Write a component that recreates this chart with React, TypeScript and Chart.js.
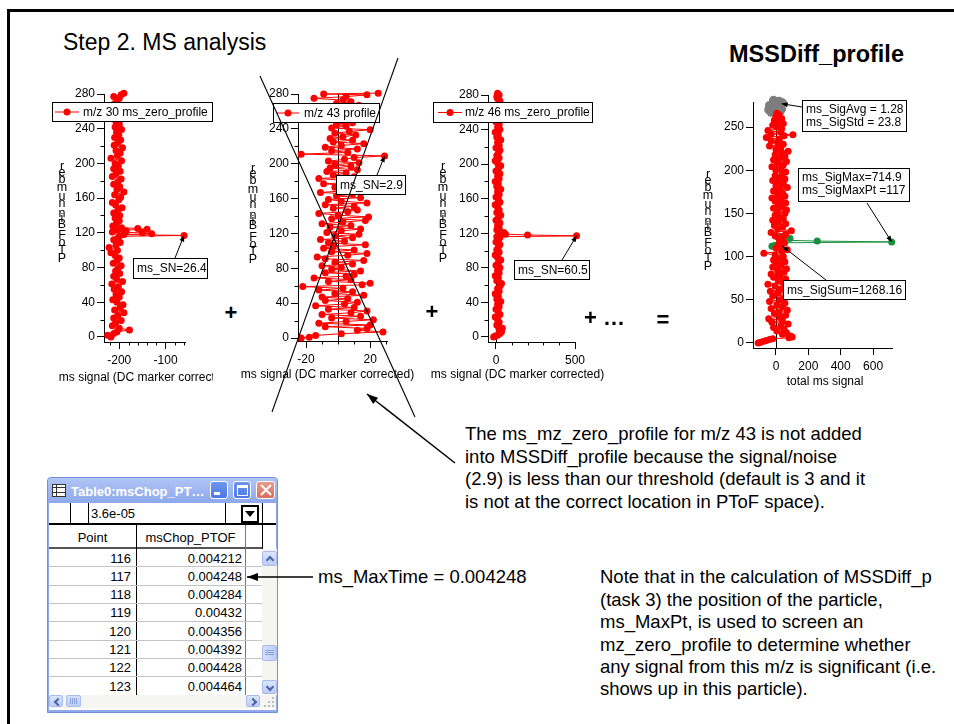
import React, { useEffect, useRef } from 'react';
import { Chart, registerables } from 'chart.js';

Chart.register(...registerables);

const FONT = '"Liberation Sans", Arial, Helvetica, sans-serif';

// ---------------- data: [PToF bin, ms signal] ----------------
const mz30Profile: [number, number][] = [
  [0, -218], [2, -225], [4, -212], [6, -205], [8, -178], [10, -200], [13, -215], [16, -208], [19, -196], [22, -212],
  [25, -203], [28, -190], [31, -210], [34, -198], [37, -192], [40, -205], [43, -214], [46, -200], [49, -207], [52, -195],
  [55, -211], [58, -202], [61, -216], [64, -193], [67, -206], [70, -212], [73, -199], [76, -208], [79, -203], [82, -196],
  [85, -213], [88, -205], [91, -200], [94, -209], [97, -218], [100, -204], [103, -222], [106, -207], [109, -198], [112, -212],
  [114, -203], [116, -200], [117, -60], [118, -190], [119, -130], [120, -150], [121, -215], [122, -185], [123, -205], [124, -140],
  [125, -160], [126, -195], [128, -214], [131, -206], [134, -200], [137, -209], [140, -199], [143, -212], [146, -203], [149, -194],
  [152, -208], [155, -215], [158, -201], [161, -197], [164, -210], [167, -190], [170, -205], [173, -199], [176, -212], [179, -203],
  [182, -196], [185, -215], [188, -207], [191, -198], [194, -212], [197, -202], [200, -209], [203, -195], [206, -218], [209, -204],
  [212, -198], [215, -207], [218, -193], [221, -211], [224, -203], [227, -197], [230, -210], [233, -201], [236, -206], [239, -195],
  [242, -209], [245, -200], [248, -207], [251, -198], [254, -212], [257, -203], [260, -196], [263, -208], [266, -201], [269, -210],
  [272, -204], [275, -200], [277, -212], [279, -196], [281, -190],
];

const mz43Profile: [number, number][] = [
  [0, -23], [1, -18], [3, -14], [5, 2], [7, 28], [9, 12], [11, 18], [13, -8], [15, 20], [17, -12],
  [19, 5], [21, 22], [23, -4], [25, 14], [27, -10], [29, 8], [31, 18], [33, -6], [35, 10], [37, -14],
  [39, 4], [41, 12], [43, -8], [45, 6], [47, -10], [49, 16], [51, -2], [53, 9], [55, -12], [57, 3],
  [59, -22], [61, 15], [63, 20], [65, -6], [67, 8], [69, -15], [71, 5], [73, 10], [75, -8], [77, 14],
  [79, -4], [81, 2], [83, -10], [85, 9], [87, -2], [89, 16], [91, -8], [93, -13], [95, 6], [97, 18],
  [99, -4], [101, 10], [103, -9], [105, -3], [107, 17], [109, -6], [111, 4], [113, -11], [115, 9], [117, -2],
  [119, 13], [121, -7], [123, 2], [125, 14], [127, -5], [129, 8], [131, -10], [133, 3], [135, 17], [137, -4],
  [139, 19], [141, 0], [143, -12], [145, 6], [147, 12], [149, -3], [151, 10], [153, -8], [155, 18], [157, 2],
  [159, -6], [161, 14], [163, -1], [165, 9], [167, -11], [169, 4], [171, 12], [173, -2], [175, 7], [177, -9],
  [179, 15], [181, 3], [183, -12], [185, 10], [187, -3], [189, 5], [191, -7], [193, 12], [195, -5], [197, 8],
  [199, -2], [201, 13], [203, -6], [205, 4], [207, 10], [209, 29], [211, -23], [213, 6], [215, -4], [217, 12],
  [219, -8], [221, 2], [223, 16], [225, -3], [227, 9], [229, -5], [231, 3], [233, 11], [235, -2], [237, 7],
  [239, 20], [241, -4], [243, 5], [245, -1], [247, 9], [249, 3], [251, -6], [253, 8], [255, 1], [257, -3],
  [259, 10], [261, 4], [263, -2], [265, 6], [267, 13], [269, -1], [271, 8], [273, 3], [275, -15], [277, 5],
  [279, 18], [280, -9], [281, 25],
];

const mz46Profile: [number, number][] = [
  [0, -15], [1, -5], [2, 10], [4, 25], [6, 35], [8, 20], [10, 40], [12, 15], [14, 5], [17, 20],
  [20, 10], [23, -5], [26, 25], [29, 15], [32, 0], [35, 20], [38, 10], [41, 30], [44, 5], [47, 15],
  [50, -5], [53, 20], [56, 10], [59, 25], [62, 35], [65, 5], [68, 15], [71, -5], [74, 20], [77, 10],
  [80, 25], [83, 0], [86, 15], [89, 30], [92, 10], [95, -5], [98, 20], [101, 5], [104, 15], [107, 25],
  [110, 0], [112, 15], [114, 10], [115, 25], [116, 5], [117, 510], [118, 200], [119, 60], [120, 30], [121, 50],
  [122, 15], [124, 5], [126, 20], [129, 10], [132, 25], [135, 0], [138, 15], [141, 30], [144, 5], [147, 20],
  [150, 10], [153, -5], [156, 25], [159, 15], [162, 0], [165, 20], [168, 10], [171, 30], [174, 5], [177, 15],
  [180, -5], [183, 20], [186, 10], [189, 25], [192, 0], [195, 15], [198, 30], [201, 10], [204, -5], [207, 20],
  [210, 5], [213, 15], [216, 25], [219, 0], [222, 20], [225, 10], [228, 30], [231, 5], [234, 15], [237, -5],
  [240, 25], [243, 10], [246, 20], [249, 0], [252, 15], [255, 30], [258, 5], [261, 20], [264, 10], [267, -5],
  [270, 15], [273, 25], [276, 10], [278, 5], [280, 20], [282, 10],
];

const sumProfile: [number, number][] = [
  [0, -110], [1, -95], [2, -75], [3, -60], [4, -40], [5, -20], [6, 80], [7, 100], [8, 90], [10, 40],
  [12, 65], [14, 5], [16, 50], [18, -15], [20, 30], [22, 75], [24, -25], [26, 40], [28, -45], [30, 25],
  [32, 60], [34, -10], [36, 20], [38, 70], [40, -30], [42, 40], [44, 5], [46, 55], [48, -40], [50, 25],
  [52, 50], [54, -20], [56, 65], [58, 10], [60, -35], [62, 30], [64, 55], [66, -5], [68, -50], [70, 40],
  [72, 15], [74, 60], [76, -15], [78, 25], [80, -30], [82, 50], [84, 10], [86, 65], [88, -20], [90, 30],
  [92, 0], [94, 55], [96, -15], [98, 25], [100, 45], [102, -5], [104, -75], [106, 35], [108, 70], [110, 0],
  [112, 30], [114, 15], [116, 50], [118, 35], [120, 20], [122, 45], [124, -5], [126, 60], [128, -30], [130, 95],
  [132, 10], [134, 40], [136, -10], [138, 60], [140, 15], [142, -20], [144, 45], [146, 20], [148, -5], [150, 55],
  [152, 10], [154, 65], [156, -15], [158, 35], [160, 15], [162, 60], [164, -5], [166, 30], [168, -25], [170, 55],
  [172, 10], [174, 40], [176, -15], [178, 25], [180, 70], [182, 0], [184, 45], [186, 15], [188, -20], [190, 55],
  [192, 20], [194, -5], [196, 40], [198, 60], [200, 0], [202, 30], [204, -25], [206, 45], [208, 10], [210, 65],
  [212, -15], [214, 25], [216, 55], [218, -5], [220, 35], [222, 75], [224, 0], [226, 30], [228, -40], [230, 45],
  [232, 10], [234, -30], [236, 20], [238, -60], [240, 50], [241, 105], [242, -30], [244, 30], [246, -50], [248, 35],
  [250, 5], [252, -20], [254, 45], [256, 10], [258, -10], [260, 35], [262, 0], [264, 20], [266, 5],
];

const sumMaxRegion: [number, number][] = [
  [112, -25], [113, -10], [114, 15], [115, 35], [116, 55], [117, 715], [118, 255], [119, 40], [120, 20], [121, 87],
  [122, 25], [123, 10],
];

const sumAvgMarker: [number, number][] = [
  [265, 10], [267, -30], [268, 25], [270, -45], [271, 35], [272, -20], [273, 15], [275, -40], [276, 30], [277, -10],
  [278, 40], [279, 0], [280, 20], [281, -15],
];

// ---------------- axis ticks ----------------
const binTicks40 = [0, 40, 80, 120, 160, 200, 240, 280];
const binMinor40 = [20, 60, 100, 140, 180, 220, 260];
const binTicks50 = [0, 50, 100, 150, 200, 250];
const mz30Ticks = [-200, -100];
const mz30Minor = [-220, -180, -160, -140, -120, -80, -60];
const mz43Ticks = [-20, 20];
const mz43Minor = [-10, 0, 10, 30];
const mz46Ticks = [0, 500];
const mz46Minor = [100, 200, 300, 400];
const sumTicks = [0, 200, 400, 600];

// ---------------- table ----------------
const tablePoints = [116, 117, 118, 119, 120, 121, 122, 123];
const tableTimes = [0.004212, 0.004248, 0.004284, 0.00432, 0.004356, 0.004392, 0.004428, 0.004464];

const RED = '#ff0000';
const GREEN = '#17913f';
const GREY = '#7d7d7d';

type Note = { x: number; y: number; w: number; h: number; lines: string[]; from: [number, number]; to: [number, number] };
type Legend = { x: number; y: number; w: number; h: number; l1: number; l2: number; tx: number; label: string };
type Spec = {
  box: { x: number; y: number; w: number; h: number };
  area: { l: number; t: number; r: number; b: number };
  xr: [number, number];
  yr: [number, number];
  xMajor: number[];
  xMinor: number[];
  yMajor: number[];
  yMinor: number[];
  zero: boolean;
  xTitle: { text: string; cx: number; cy: number };
  yTitle: { text: string; x: number; cy: number };
  legend?: Legend;
  notes: Note[];
  datasets: any[];
};

const toXY = (arr: [number, number][]) => arr.map(([bin, s]) => ({ x: s, y: bin }));
function series(arr: [number, number][], color: string, radius = 3.5) {
  return {
    data: toXY(arr),
    showLine: true,
    borderColor: color,
    backgroundColor: color,
    borderWidth: 1,
    pointRadius: radius,
    pointHoverRadius: radius,
    pointBorderWidth: 0,
    clip: false,
    tension: 0,
  };
}

const YTITLE = 'PToF Bin number';
const XTITLE = 'ms signal (DC marker corrected)';

const specs: Spec[] = [
  {
    box: { x: 40, y: 60, w: 173, h: 340 },
    area: { l: 104, t: 94, r: 185, b: 342 },
    xr: [-233, -58], yr: [-5.8, 280],
    xMajor: mz30Ticks, xMinor: mz30Minor, yMajor: binTicks40, yMinor: binMinor40,
    zero: false,
    xTitle: { text: XTITLE, cx: 145.5, cy: 378 },
    yTitle: { text: YTITLE, x: 62, cy: 213.5 },
    legend: { x: 52, y: 102, w: 161, h: 20, l1: 55, l2: 79, tx: 83, label: 'm/z 30 ms_zero_profile' },
    notes: [{ x: 133, y: 258, w: 75, h: 21, lines: ['ms_SN=26.4'], from: [175, 258], to: [-60, 117] }],
    datasets: [series(mz30Profile, RED)],
  },
  {
    box: { x: 240, y: 60, w: 180, h: 340 },
    area: { l: 298, t: 94, r: 387, b: 341 },
    xr: [-25, 30.5], yr: [-3.4, 280],
    xMajor: mz43Ticks, xMinor: mz43Minor, yMajor: binTicks40, yMinor: binMinor40,
    zero: true,
    xTitle: { text: XTITLE, cx: 327.5, cy: 375 },
    yTitle: { text: YTITLE, x: 253, cy: 215 },
    legend: { x: 273, y: 103, w: 107, h: 20, l1: 277, l2: 299, tx: 304, label: 'm/z 43 profile' },
    notes: [{ x: 336, y: 175, w: 70, h: 20, lines: ['ms_SN=2.9'], from: [377, 175], to: [29, 209] }],
    datasets: [series(mz43Profile, RED)],
  },
  {
    box: { x: 425, y: 60, w: 185, h: 340 },
    area: { l: 488, t: 95, r: 575, b: 342 },
    xr: [-50.6, 500], yr: [-5.8, 280],
    xMajor: mz46Ticks, xMinor: mz46Minor, yMajor: binTicks40, yMinor: binMinor40,
    zero: true,
    xTitle: { text: XTITLE, cx: 517.5, cy: 375 },
    yTitle: { text: YTITLE, x: 443, cy: 213.5 },
    legend: { x: 433, y: 102, w: 160, h: 21, l1: 438, l2: 462, tx: 465, label: 'm/z 46 ms_zero_profile' },
    notes: [{ x: 514, y: 260, w: 76, h: 20, lines: ['ms_SN=60.5'], from: [562, 260], to: [510, 117] }],
    datasets: [series(mz46Profile, RED)],
  },
  {
    box: { x: 690, y: 80, w: 235, h: 315 },
    area: { l: 753, t: 102, r: 892, b: 348 },
    xr: [-142, 717], yr: [-5.8, 279],
    xMajor: sumTicks, xMinor: [], yMajor: binTicks50, yMinor: [],
    zero: true,
    xTitle: { text: 'total ms signal', cx: 825, cy: 382 },
    yTitle: { text: YTITLE, x: 708, cy: 221.5 },
    notes: [
      { x: 802, y: 100, w: 105, h: 32, lines: ['ms_SigAvg = 1.28', 'ms_SigStd = 23.8'], from: [802, 107], to: [35, 277] },
      { x: 798, y: 168, w: 112, h: 34, lines: ['ms_SigMax=714.9', 'ms_SigMaxPt =117'], from: [867, 203], to: [715, 117] },
      { x: 783, y: 280, w: 123, h: 20, lines: ['ms_SigSum=1268.16'], from: [826, 280], to: [40, 112] },
    ],
    datasets: [series(sumProfile, RED), series(sumMaxRegion, GREEN, 3.5), series(sumAvgMarker, GREY, 4.5)],
  },
];

function arrowHead(ctx: CanvasRenderingContext2D, x1: number, y1: number, x2: number, y2: number, len = 6, hw = 2.5) {
  const a = Math.atan2(y2 - y1, x2 - x1);
  const c = Math.cos(a), s = Math.sin(a);
  ctx.beginPath();
  ctx.moveTo(x2, y2);
  ctx.lineTo(x2 - len * c + hw * s, y2 - len * s - hw * c);
  ctx.lineTo(x2 - len * c - hw * s, y2 - len * s + hw * c);
  ctx.closePath();
  ctx.fill();
}

function decorPlugin(spec: Spec) {
  const ox = spec.box.x, oy = spec.box.y;
  return {
    id: 'decor',
    beforeDatasetsDraw(chart: any) {
      const { ctx, chartArea: a, scales } = chart;
      const xs = scales.x, ys = scales.y;
      ctx.save();
      ctx.strokeStyle = '#000';
      ctx.lineWidth = 1;
      ctx.beginPath();
      if (spec.zero) {
        const px = Math.round(xs.getPixelForValue(0)) + 0.5;
        ctx.moveTo(px, a.top);
        ctx.lineTo(px, a.bottom);
      }
      spec.xMinor.forEach((v) => {
        const px = Math.round(xs.getPixelForValue(v)) + 0.5;
        ctx.moveTo(px, a.bottom);
        ctx.lineTo(px, a.bottom + 3.5);
      });
      spec.yMinor.forEach((v) => {
        const py = Math.round(ys.getPixelForValue(v)) + 0.5;
        ctx.moveTo(a.left - 3.5, py);
        ctx.lineTo(a.left, py);
      });
      ctx.stroke();
      ctx.restore();
    },
    afterDraw(chart: any) {
      const { ctx, scales } = chart;
      const xs = scales.x, ys = scales.y;
      ctx.save();
      ctx.fillStyle = '#000';
      ctx.strokeStyle = '#000';
      ctx.lineWidth = 1;

      // x title
      ctx.font = `12px ${FONT}`;
      ctx.textAlign = 'center';
      ctx.textBaseline = 'middle';
      ctx.fillText(spec.xTitle.text, spec.xTitle.cx - ox, spec.xTitle.cy - oy);

      // y title: glyphs stacked upright along the vertical
      ctx.font = `12.5px ${FONT}`;
      const chars = [...spec.yTitle.text];
      const widths = chars.map((c) => ctx.measureText(c).width);
      const total = widths.reduce((p, q) => p + q, 0);
      let pos = spec.yTitle.cy - oy + total / 2;
      chars.forEach((c, i) => {
        ctx.fillText(c, spec.yTitle.x - ox, pos - widths[i] / 2);
        pos -= widths[i];
      });

      // legend box
      ctx.font = `12px ${FONT}`;
      if (spec.legend) {
        const L = spec.legend;
        ctx.fillStyle = '#fff';
        ctx.fillRect(L.x - ox, L.y - oy, L.w, L.h);
        ctx.strokeRect(L.x - ox + 0.5, L.y - oy + 0.5, L.w - 1, L.h - 1);
        const cy = L.y - oy + L.h / 2;
        ctx.strokeStyle = RED;
        ctx.beginPath();
        ctx.moveTo(L.l1 - ox, cy);
        ctx.lineTo(L.l2 - ox, cy);
        ctx.stroke();
        ctx.fillStyle = RED;
        ctx.beginPath();
        ctx.arc((L.l1 + L.l2) / 2 - ox, cy, 3.5, 0, Math.PI * 2);
        ctx.fill();
        ctx.fillStyle = '#000';
        ctx.strokeStyle = '#000';
        ctx.textAlign = 'left';
        ctx.fillText(L.label, L.tx - ox, cy + 0.5);
      }

      // annotation boxes with arrows
      spec.notes.forEach((n) => {
        ctx.fillStyle = '#fff';
        ctx.fillRect(n.x - ox, n.y - oy, n.w, n.h);
        ctx.strokeStyle = '#000';
        ctx.strokeRect(n.x - ox + 0.5, n.y - oy + 0.5, n.w - 1, n.h - 1);
        ctx.fillStyle = '#000';
        ctx.textAlign = 'left';
        ctx.textBaseline = 'middle';
        n.lines.forEach((t, i) => {
          const cy = n.lines.length === 1 ? n.y + n.h / 2 : n.y + 9.5 + i * 13;
          ctx.fillText(t, n.x - ox + 4, cy - oy + 0.5);
        });
        const tx = xs.getPixelForValue(n.to[0]);
        const ty = ys.getPixelForValue(n.to[1]);
        const fx = n.from[0] - ox, fy = n.from[1] - oy;
        ctx.beginPath();
        ctx.moveTo(fx, fy);
        ctx.lineTo(tx, ty);
        ctx.stroke();
        arrowHead(ctx, fx, fy, tx, ty, 6, 2.5);
      });
      ctx.restore();
    },
  };
}

const YW = 40;
const XH = 30;

function buildConfig(spec: Spec): any {
  const { box, area } = spec;
  const padding = {
    left: area.l - box.x - YW,
    top: area.t - box.y,
    right: box.x + box.w - area.r,
    bottom: box.y + box.h - area.b - XH,
  };
  const axis = (range: [number, number], ticks: number[], isX: boolean) => ({
    type: 'linear',
    bounds: 'data',
    min: range[0],
    max: range[1],
    afterBuildTicks: (ax: any) => {
      ax.ticks = ticks.map((v) => ({ value: v }));
    },
    afterFit: (ax: any) => {
      if (isX) ax.height = XH;
      else ax.width = YW;
    },
    grid: { display: true, drawOnChartArea: false, drawTicks: true, tickLength: 7, color: '#000', tickColor: '#000', lineWidth: 1 },
    border: { display: true, color: '#000', width: 1 },
    ticks: {
      color: '#000',
      font: { family: FONT, size: 12 },
      padding: isX ? 4 : 2,
      autoSkip: false,
      maxRotation: 0,
      minRotation: 0,
      callback: (v: number) => String(v),
    },
    title: { display: false },
  });
  return {
    type: 'scatter',
    data: { datasets: spec.datasets },
    options: {
      animation: false,
      responsive: false,
      maintainAspectRatio: false,
      devicePixelRatio: 1,
      layout: { padding },
      events: [],
      plugins: { legend: { display: false }, tooltip: { enabled: false }, title: { display: false } },
      scales: { x: axis(spec.xr, spec.xMajor, true), y: axis(spec.yr, spec.yMajor, false) },
    },
    plugins: [decorPlugin(spec)],
  };
}

function MiniChart({ spec }: { spec: Spec }) {
  const ref = useRef<HTMLCanvasElement>(null);
  useEffect(() => {
    const chart = new Chart(ref.current as HTMLCanvasElement, buildConfig(spec));
    return () => chart.destroy();
  }, [spec]);
  const { x, y, w, h } = spec.box;
  return <canvas ref={ref} width={w} height={h} style={{ position: 'absolute', left: x, top: y, width: w, height: h }} />;
}

const abs = (x: number, y: number, w: number, h: number, extra: any = {}): any => ({
  position: 'absolute', left: x, top: y, width: w, height: h, boxSizing: 'border-box', ...extra,
});

function Chevron({ cx, cy, dir }: { cx: number; cy: number; dir: 'up' | 'down' | 'left' | 'right' }) {
  const rot = { up: 45, down: 225, left: -45, right: 135 }[dir];
  return (
    <div style={abs(cx - 2.5, cy - 2.5 + (dir === 'up' ? 1 : dir === 'down' ? -1 : 0), 6, 6, {
      borderTop: '2px solid #4a64a6', borderLeft: '2px solid #4a64a6', transform: `rotate(${rot}deg)`,
    })} />
  );
}

function SBtn({ x, y, w, h, dir }: any) {
  return (
    <>
      <div style={abs(x, y, w, h, { background: 'linear-gradient(#dbe5fb,#bccdf5)', border: '1px solid #a8bcee', borderRadius: 2 })} />
      <Chevron cx={x + w / 2 + (dir === 'left' ? 1 : dir === 'right' ? -1 : 0)} cy={y + h / 2} dir={dir} />
    </>
  );
}

function TableWindow() {
  const rowTop = 549;
  const rowH = 18.33;
  const txt = { fontFamily: FONT, fontSize: 13, lineHeight: '16px', color: '#000', whiteSpace: 'nowrap' };
  return (
    <>
      <div style={abs(47, 477, 231, 236, { background: '#8fa9ec', border: '1px solid #7390df', borderRadius: '4px 4px 0 0' })} />
      <div style={abs(48, 478, 229, 25, { background: 'linear-gradient(#b0c4f5, #8ea8ec)', borderRadius: '3px 3px 0 0' })} />
      <div style={abs(52, 484, 14, 13, { background: '#fff', border: '1px solid #333' })} />
      <div style={abs(52, 487, 14, 1, { background: '#333' })} />
      <div style={abs(56, 484, 1, 13, { background: '#333' })} />
      <div style={abs(52, 492, 14, 1, { background: '#333' })} />
      <div style={abs(71, 483.5, 138, 16, { ...txt, color: '#fff', fontWeight: 'bold', overflow: 'hidden' })}>Table0:msChop_PT…</div>
      <div style={abs(210, 481, 18, 18, { background: 'linear-gradient(#6f96ee,#4c79e4)', border: '1px solid #fff', borderRadius: 3 })} />
      <div style={abs(214, 492, 6, 3, { background: '#fff' })} />
      <div style={abs(233, 481, 18, 18, { background: 'linear-gradient(#6f96ee,#4c79e4)', border: '1px solid #fff', borderRadius: 3 })} />
      <div style={abs(236.5, 484.5, 11, 11, { border: '1px solid #fff', borderTop: '3px solid #fff' })} />
      <div style={abs(256, 481, 19, 18, { background: 'linear-gradient(#e99a8c,#d76e5e)', border: '1px solid #fff', borderRadius: 3 })} />
      <div style={abs(258.5, 489, 14, 2.2, { background: '#fff', transform: 'rotate(45deg)' })} />
      <div style={abs(258.5, 489, 14, 2.2, { background: '#fff', transform: 'rotate(-45deg)' })} />

      {/* client area */}
      <div style={abs(49, 503, 227, 207, { background: '#fff' })} />
      {/* entry row */}
      <div style={abs(70, 503, 1, 21, { background: '#000' })} />
      <div style={abs(88, 503, 1, 21, { background: '#000' })} />
      <div style={abs(91, 505.5, 100, 16, txt)}>3.6e-05</div>
      <div style={abs(225, 503, 1, 21, { background: '#000' })} />
      <div style={abs(241, 505, 18, 18, { border: '2px solid #000', background: '#fff' })} />
      <div style={abs(245, 511, 10, 6, { borderLeft: '5px solid transparent', borderRight: '5px solid transparent', borderTop: '6px solid #000', width: 0, height: 0 })} />
      <div style={abs(262, 503, 1, 46, { background: '#000' })} />
      <div style={abs(49, 523, 227, 2, { background: '#000' })} />
      {/* header */}
      <div style={abs(49, 530, 87, 16, { ...txt, textAlign: 'center' })}>Point</div>
      <div style={abs(136, 530, 109, 16, { ...txt, textAlign: 'center' })}>msChop_PTOF</div>
      <div style={abs(49, 547, 213, 2, { background: '#555' })} />
      <div style={abs(136, 525, 1, 170, { background: '#000' })} />
      <div style={abs(245, 525, 1, 170, { background: '#777' })} />
      {/* rows */}
      {tablePoints.map((p, i) => {
        const top = rowTop + i * rowH;
        return (
          <React.Fragment key={p}>
            <div style={abs(49, top + 1.5, 82, 16, { ...txt, textAlign: 'right' })}>{String(p)}</div>
            <div style={abs(136, top + 1.5, 106, 16, { ...txt, textAlign: 'right' })}>{String(tableTimes[i])}</div>
            <div style={abs(49, top + rowH - 1, 213, 1, { background: '#c4c4c4' })} />
          </React.Fragment>
        );
      })}
      {/* vertical scrollbar */}
      <div style={abs(262, 549, 15, 146, { background: '#f5f5f1' })} />
      <SBtn x={262} y={551} w={15} h={15} dir="up" />
      <div style={abs(262, 645, 15, 16, { background: 'linear-gradient(90deg,#d6e1fa,#bccdf5)', border: '1px solid #a8bcee', borderRadius: 2 })} />
      <div style={abs(265, 650, 9, 1, { background: '#8aa0d8' })} />
      <div style={abs(265, 652, 9, 1, { background: '#8aa0d8' })} />
      <div style={abs(265, 654, 9, 1, { background: '#8aa0d8' })} />
      <SBtn x={262} y={680} w={15} h={14} dir="down" />
      {/* horizontal scrollbar */}
      <div style={abs(49, 695, 227, 13, { background: '#f5f5f1' })} />
      <SBtn x={49} y={695} w={14} h={12} dir="left" />
      <div style={abs(66, 695, 15, 12, { background: 'linear-gradient(#d6e1fa,#bccdf5)', border: '1px solid #a8bcee', borderRadius: 2 })} />
      <div style={abs(70, 698, 1, 6, { background: '#8aa0d8' })} />
      <div style={abs(72, 698, 1, 6, { background: '#8aa0d8' })} />
      <div style={abs(74, 698, 1, 6, { background: '#8aa0d8' })} />
      <div style={abs(76, 698, 1, 6, { background: '#8aa0d8' })} />
      <SBtn x={246} y={695} w={14} h={12} dir="right" />
      <div style={abs(268, 701, 2, 2, { background: '#bbb' })} />
      <div style={abs(272, 697, 2, 2, { background: '#bbb' })} />
      <div style={abs(272, 701, 2, 2, { background: '#bbb' })} />
      <div style={abs(264, 705, 2, 2, { background: '#bbb' })} />
      <div style={abs(268, 705, 2, 2, { background: '#bbb' })} />
      <div style={abs(272, 705, 2, 2, { background: '#bbb' })} />
    </>
  );
}

function headPts(x1: number, y1: number, x2: number, y2: number, len: number, hw: number) {
  const a = Math.atan2(y2 - y1, x2 - x1);
  const c = Math.cos(a), s = Math.sin(a);
  return `${x2},${y2} ${x2 - len * c + hw * s},${y2 - len * s - hw * c} ${x2 - len * c - hw * s},${y2 - len * s + hw * c}`;
}

const crossLines = [
  [260, 76, 415, 417],
  [398, 58, 272, 412],
];
const pointerArrows = [
  [455, 463, 367, 394],
  [313, 577, 247, 577],
];

const noteText1 = [
  'The ms_mz_zero_profile for m/z 43 is not added',
  'into MSSDiff_profile because the signal/noise',
  '(2.9) is less than our threshold (default is 3 and it',
  'is not at the correct location in PToF space).',
];
const noteText2 = [
  'Note that in the calculation of MSSDiff_p',
  '(task 3) the position of the particle,',
  'ms_MaxPt, is used to screen an',
  'mz_zero_profile to determine whether',
  'any signal from this m/z is significant (i.e.',
  'shows up in this particle).',
];

export default function App() {
  const text = (x: number, y: number, size: number, extra: any = {}) => ({
    position: 'absolute', left: x, top: y, fontSize: size, lineHeight: `${size}px`, fontFamily: FONT, color: '#000', whiteSpace: 'pre', ...extra,
  });
  return (
    <div style={{ position: 'fixed', left: 0, top: 0, width: 954, height: 724, overflow: 'hidden', background: '#fff', fontFamily: FONT }}>
      <div style={{ position: 'absolute', left: 7, top: 9, width: 1000, height: 800, borderLeft: '3px solid #000', borderTop: '3px solid #000' }} />
      <div style={text(63, 30.5, 23) as any}>Step 2. MS analysis</div>
      <div style={text(729, 42.5, 23.5, { fontWeight: 'bold' }) as any}>MSSDiff_profile</div>

      {specs.map((s, i) => (
        <MiniChart key={i} spec={s} />
      ))}

      <div style={text(224.6, 301.7, 22, { fontWeight: 'bold' }) as any}>+</div>
      <div style={text(425.6, 300.7, 22, { fontWeight: 'bold' }) as any}>+</div>
      <div style={text(584, 307.4, 22, { fontWeight: 'bold' }) as any}>+ …</div>
      <div style={text(656.6, 308.7, 22, { fontWeight: 'bold' }) as any}>=</div>

      <div style={text(465, 423.4, 18.5, { lineHeight: '22.4px' }) as any}>{noteText1.join('\n')}</div>
      <div style={text(318, 566.4, 18.5, { lineHeight: '22.4px' }) as any}>ms_MaxTime = 0.004248</div>
      <div style={text(600, 566.4, 18.5, { lineHeight: '22.4px' }) as any}>{noteText2.join('\n')}</div>

      <TableWindow />

      <svg width={954} height={724} style={{ position: 'absolute', left: 0, top: 0, pointerEvents: 'none' }}>
        {crossLines.map((l, i) => (
          <line key={i} x1={l[0]} y1={l[1]} x2={l[2]} y2={l[3]} stroke="#000" strokeWidth={1.1} />
        ))}
        {pointerArrows.map((l, i) => (
          <g key={i}>
            <line x1={l[0]} y1={l[1]} x2={l[2]} y2={l[3]} stroke="#000" strokeWidth={1.5} />
            <polygon points={headPts(l[0], l[1], l[2], l[3], 11, 4)} fill="#000" />
          </g>
        ))}
      </svg>
    </div>
  );
}
